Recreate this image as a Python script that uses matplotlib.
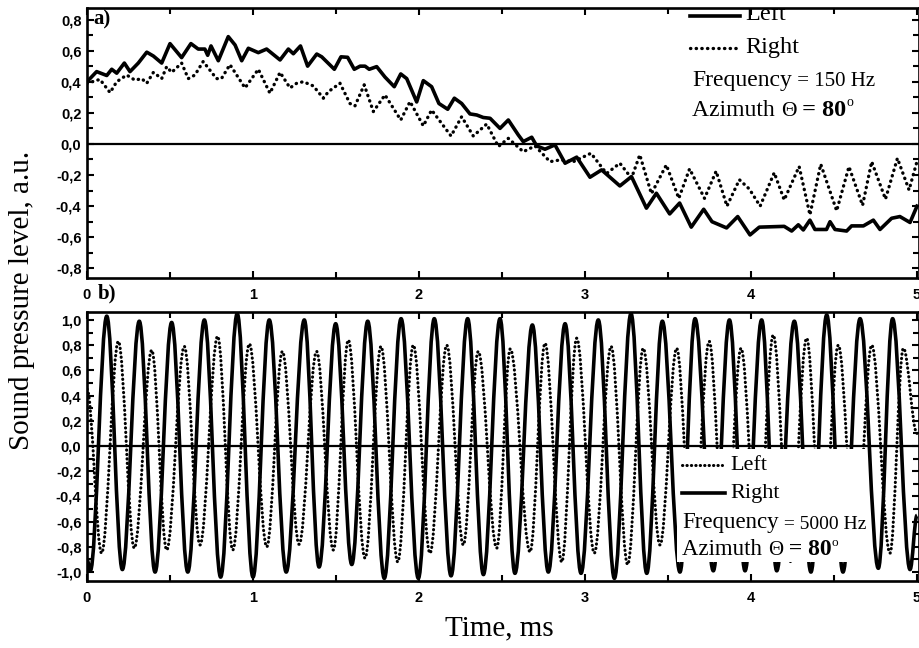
import matplotlib
matplotlib.use("Agg")
import matplotlib.pyplot as plt
from matplotlib.ticker import MultipleLocator, FuncFormatter
from matplotlib.patches import Rectangle, PathPatch
from matplotlib.path import Path

SERIF = "Liberation Serif"
SANS = "Liberation Sans"

# ---- panel a) 150 Hz : time (ms) / level ----
t_left_a = [0.00, 0.058, 0.119, 0.149, 0.179, 0.225, 0.259, 0.309, 0.36, 0.40,
            0.45, 0.50, 0.57, 0.626, 0.67, 0.71, 0.727, 0.747, 0.791, 0.851,
            0.892, 0.932, 0.972, 1.032, 1.082, 1.163, 1.213, 1.243, 1.286, 1.329,
            1.384, 1.414, 1.49, 1.53, 1.57, 1.61, 1.645, 1.675, 1.70, 1.745,
            1.795, 1.851, 1.89, 1.926, 1.986, 2.026, 2.076, 2.12, 2.173, 2.213,
            2.257, 2.307, 2.348, 2.387, 2.428, 2.488, 2.538, 2.598, 2.628, 2.679,
            2.709, 2.759, 2.819, 2.88, 2.95, 3.03, 3.10, 3.21, 3.28, 3.37,
            3.43, 3.51, 3.57, 3.64, 3.715, 3.765, 3.853, 3.92, 3.994, 4.05,
            4.20, 4.245, 4.285, 4.315, 4.355, 4.385, 4.455, 4.476, 4.506, 4.576,
            4.606, 4.677, 4.737, 4.777, 4.847, 4.897, 4.958, 5.0]
v_left_a = [0.40, 0.465, 0.44, 0.48, 0.455, 0.52, 0.465, 0.52, 0.59, 0.565,
            0.52, 0.645, 0.555, 0.645, 0.61, 0.61, 0.57, 0.63, 0.535, 0.69,
            0.636, 0.535, 0.615, 0.587, 0.61, 0.54, 0.61, 0.58, 0.63, 0.50,
            0.578, 0.56, 0.48, 0.56, 0.557, 0.48, 0.50, 0.50, 0.48, 0.497,
            0.43, 0.368, 0.45, 0.42, 0.27, 0.407, 0.368, 0.26, 0.223, 0.294,
            0.26, 0.193, 0.186, 0.17, 0.165, 0.10, 0.154, 0.058, 0.015, 0.043,
            -0.013, -0.034, -0.006, -0.124, -0.085, -0.214, -0.167, -0.27, -0.21, -0.413,
            -0.317, -0.45, -0.38, -0.535, -0.42, -0.50, -0.54, -0.467, -0.585, -0.535,
            -0.53, -0.56, -0.52, -0.553, -0.49, -0.55, -0.55, -0.50, -0.55, -0.56,
            -0.527, -0.527, -0.49, -0.55, -0.478, -0.467, -0.505, -0.40]

t_right_a = [0.0, 0.078, 0.139, 0.179, 0.239, 0.289, 0.33, 0.36, 0.40, 0.45,
             0.48, 0.51, 0.57, 0.61, 0.65, 0.70, 0.78, 0.81, 0.861, 0.952,
             1.032, 1.102, 1.163, 1.223, 1.263, 1.303, 1.363, 1.424, 1.454, 1.524,
             1.584, 1.614, 1.67, 1.725, 1.795, 1.89, 1.946, 2.026, 2.076, 2.193,
             2.257, 2.327, 2.408, 2.478, 2.538, 2.628, 2.699, 2.789, 2.849, 2.93,
             3.036, 3.13, 3.21, 3.28, 3.33, 3.40, 3.49, 3.565, 3.63, 3.72,
             3.79, 3.855, 3.93, 3.99, 4.055, 4.14, 4.20, 4.29, 4.355, 4.42,
             4.516, 4.59, 4.672, 4.727, 4.81, 4.882, 4.952, 5.0]
v_right_a = [0.39, 0.415, 0.33, 0.40, 0.443, 0.41, 0.42, 0.39, 0.46, 0.42,
             0.497, 0.46, 0.52, 0.42, 0.443, 0.53, 0.42, 0.42, 0.51, 0.36,
             0.48, 0.326, 0.46, 0.36, 0.39, 0.40, 0.373, 0.294, 0.336, 0.39,
             0.26, 0.244, 0.38, 0.208, 0.315, 0.154, 0.272, 0.116, 0.218, 0.051,
             0.175, 0.051, 0.128, -0.017, 0.036, -0.05, -0.013, -0.114, -0.103, -0.114,
             -0.06, -0.19, -0.124, -0.22, -0.07, -0.32, -0.135, -0.35, -0.16, -0.35,
             -0.175, -0.40, -0.23, -0.29, -0.40, -0.185, -0.36, -0.145, -0.456, -0.13,
             -0.43, -0.146, -0.395, -0.114, -0.355, -0.092, -0.296, -0.112]

# ---- panel b) 5000 Hz : peaks and troughs ----
t_right_b = [0.0, 0.02, 0.119, 0.213, 0.315, 0.41, 0.51, 0.607, 0.707, 0.805,
             0.905, 1.0, 1.098, 1.2, 1.309, 1.398, 1.498, 1.595, 1.691, 1.791,
             1.892, 1.996, 2.092, 2.193, 2.293, 2.388, 2.488, 2.578, 2.683, 2.779,
             2.88, 2.976, 3.08, 3.177, 3.277, 3.372, 3.466, 3.572, 3.663, 3.773,
             3.87, 3.964, 4.064, 4.155, 4.261, 4.361, 4.456, 4.554, 4.657, 4.767,
             4.853, 4.958, 5.0]
v_right_b = [-0.9, -0.99, 1.03, -0.98, 0.99, -1.0, 0.98, -1.0, 1.0, -1.04,
             1.05, -1.04, 1.0, -1.0, 1.0, -0.96, 0.97, -0.94, 0.99, -1.05,
             1.01, -1.05, 1.01, -1.03, 1.01, -1.02, 1.01, -1.01, 0.96, -1.0,
             0.97, -1.01, 1.0, -1.05, 1.05, -1.01, 0.99, -1.0, 1.01, -0.99,
             1.0, -0.99, 1.0, -0.99, 0.99, -1.0, 1.04, -1.0, 1.01, -0.97,
             1.01, -0.98, -0.55]

t_left_b = [0.0, 0.088, 0.189, 0.285, 0.39, 0.48, 0.586, 0.681, 0.787, 0.878,
            0.978, 1.083, 1.177, 1.278, 1.383, 1.484, 1.574, 1.675, 1.771, 1.872,
            1.966, 2.066, 2.167, 2.267, 2.357, 2.468, 2.55, 2.669, 2.759, 2.86,
            2.95, 3.056, 3.157, 3.257, 3.351, 3.452, 3.552, 3.648, 3.748, 3.845,
            3.94, 4.04, 4.134, 4.235, 4.335, 4.43, 4.526, 4.63, 4.727, 4.837,
            4.918, 5.0]
v_left_b = [0.45, -0.85, 0.83, -0.81, 0.76, -0.825, 0.79, -0.785, 0.87, -0.825,
            0.81, -0.80, 0.75, -0.78, 0.75, -0.825, 0.84, -0.89, 0.79, -0.92,
            0.80, -0.85, 0.80, -0.785, 0.75, -0.81, 0.77, -0.84, 0.815, -0.92,
            0.855, -0.85, 0.79, -0.94, 0.775, -0.785, 0.775, -0.86, 0.83, -0.88,
            0.775, -0.87, 0.88, -0.92, 0.855, -0.86, 0.80, -0.85, 0.80, -0.85,
            0.775, 0.1]

DOTS_A = (0, (0.1, 1.6))
DOTS_B = (0, (0.1, 1.35))


def comma(v, pos):
    if abs(v) < 1e-9:
        v = 0.0
    return f"{v:.1f}".replace(".", ",")


def wave_path(ts, vs, k=0.36):
    # smooth curve through the extrema, flat tangent at each one
    verts = [(ts[0], vs[0])]
    codes = [Path.MOVETO]
    for i in range(len(ts) - 1):
        dt = ts[i + 1] - ts[i]
        verts += [(ts[i] + k * dt, vs[i]), (ts[i + 1] - k * dt, vs[i + 1]),
                  (ts[i + 1], vs[i + 1])]
        codes += [Path.CURVE4] * 3
    return Path(verts, codes)


def style_axes(ax, ymax, ymin):
    ax.set_xlim(0, 5.012)
    ax.set_ylim(ymin, ymax)
    ax.xaxis.set_major_locator(MultipleLocator(1))
    ax.xaxis.set_minor_locator(MultipleLocator(0.5))
    ax.yaxis.set_major_locator(MultipleLocator(0.2))
    ax.yaxis.set_minor_locator(MultipleLocator(0.1))
    ax.yaxis.set_major_formatter(FuncFormatter(comma))
    ax.tick_params(which="both", direction="in", top=True, right=True,
                   width=1.5, color="black")
    ax.tick_params(which="major", length=5)
    ax.tick_params(which="minor", length=4.5)
    ax.tick_params(axis="x", pad=7)
    ax.tick_params(axis="y", pad=4)
    for lab in ax.get_xticklabels() + ax.get_yticklabels():
        lab.set_fontfamily(SANS)
        lab.set_fontsize(10.5)
        lab.set_fontweight("bold")
    for sp in ax.spines.values():
        sp.set_linewidth(1.9)
    ax.axhline(0, color="black", lw=1.6, zorder=3)


def info_text(ax, x, y, freq, fs_big, fs_small):
    t1 = ax.text(x, y, "Frequency", family=SERIF, fontsize=fs_big,
                 va="center", zorder=6)
    ax.annotate(" = " + freq, xy=(1, 0), xycoords=t1, va="bottom",
                family=SERIF, fontsize=fs_small, zorder=6)


def azimuth_text(ax, x, y, fs):
    t1 = ax.text(x, y, "Azimuth ", family=SERIF, fontsize=fs,
                 va="center", zorder=6)
    t2 = ax.annotate("\u0398", xy=(1, 0), xycoords=t1, va="bottom",
                     family=SERIF, fontsize=fs - 1.5, zorder=6)
    t3 = ax.annotate(" = 80", xy=(1, 0), xycoords=t2, va="bottom",
                     family=SERIF, fontsize=fs + 0.5, fontweight="bold", zorder=6)
    ax.annotate("o", xy=(1, 0.55), xycoords=t3, va="bottom",
                family=SERIF, fontsize=fs - 7, zorder=6)


fig = plt.figure(figsize=(9.2, 6.48), dpi=100, facecolor="white")
ax1 = fig.add_axes([87 / 920, 1 - 278 / 648, 832 / 920, 270 / 648])
ax2 = fig.add_axes([87 / 920, 1 - 581 / 648, 832 / 920, 269 / 648])

# panel a
ax1.plot(t_left_a, v_left_a, color="black", lw=2.6, solid_joinstyle="round")
ax1.plot(t_right_a, v_right_a, color="black", lw=2.4, linestyle=DOTS_A,
         dash_capstyle="round")
style_axes(ax1, 0.874, -0.862)
ax1.text(0.04, 0.80, "a)", family=SERIF, fontsize=15, fontweight="bold",
         va="center")
ax1.plot([3.633, 3.934], [0.823, 0.823], color="black", lw=2.6, zorder=6)
ax1.plot([3.633, 3.916], [0.617, 0.617], color="black", lw=2.4, linestyle=DOTS_A,
         dash_capstyle="round", zorder=6)
ax1.text(3.964, 0.83, "Left", family=SERIF, fontsize=17.5, va="center",
         clip_on=True, zorder=6)
ax1.text(3.964, 0.623, "Right", family=SERIF, fontsize=17.5, va="center",
         zorder=6)
info_text(ax1, 3.645, 0.411, "150 Hz", 17, 15)
azimuth_text(ax1, 3.645, 0.218, 17)

# panel b
left_b = PathPatch(wave_path(t_left_b, v_left_b), facecolor="none",
                   edgecolor="black", lw=2.2, linestyle=DOTS_B, capstyle="round")
right_b = PathPatch(wave_path(t_right_b, v_right_b), facecolor="none",
                    edgecolor="black", lw=2.6, joinstyle="round")
ax2.add_patch(left_b)
ax2.add_patch(right_b)
style_axes(ax2, 1.063, -1.071)
ax2.add_patch(Rectangle((3.554, -0.92), 1.14, 0.896, facecolor="white",
                        edgecolor="none", zorder=5))
ax2.plot([3.584, 3.825], [-0.151, -0.151], color="black", lw=2.2,
         linestyle=DOTS_B, dash_capstyle="round", zorder=6)
ax2.plot([3.584, 3.843], [-0.373, -0.373], color="black", lw=2.6, zorder=6)
ax2.text(3.873, -0.151, "Left", family=SERIF, fontsize=16, va="center", zorder=6)
ax2.text(3.873, -0.373, "Right", family=SERIF, fontsize=16, va="center", zorder=6)
info_text(ax2, 3.584, -0.603, "5000 Hz", 16.5, 14)
azimuth_text(ax2, 3.584, -0.825, 16.5)

fig.text(107 / 920, 1 - 293 / 648, "b)", family=SERIF, fontsize=15,
         fontweight="bold", va="center", ha="center")
fig.text(0.024, 0.537, "Sound pressure level, a.u.", family=SERIF, fontsize=21,
         rotation=90, va="center", ha="center")
fig.text(0.543, 0.031, "Time, ms", family=SERIF, fontsize=21, va="center",
         ha="center")

fig.savefig("out.png", dpi=100, facecolor="white")
